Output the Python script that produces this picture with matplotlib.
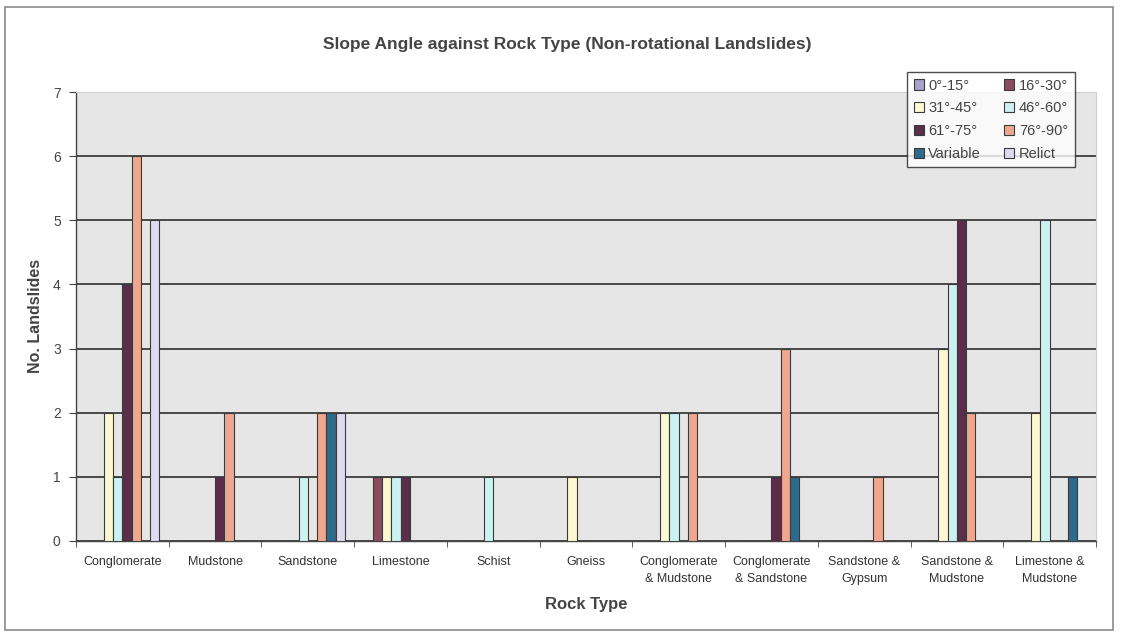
import matplotlib
matplotlib.use("Agg")
import matplotlib.pyplot as plt
from matplotlib.patches import Rectangle
import numpy as np

plt.rcParams['font.family'] = ['Liberation Sans', 'DejaVu Sans']

rock_types = ["Conglomerate", "Mudstone", "Sandstone", "Limestone", "Schist", "Gneiss",
              "Conglomerate\n& Mudstone", "Conglomerate\n& Sandstone", "Sandstone &\nGypsum",
              "Sandstone &\nMudstone", "Limestone &\nMudstone"]

series_names = ["0°-15°", "16°-30°", "31°-45°", "46°-60°", "61°-75°", "76°-90°", "Variable", "Relict"]

s_0_15 = [0, 0, 0, 0, 0, 0, 0, 0, 0, 0, 0]
s_16_30 = [0, 0, 0, 1, 0, 0, 0, 0, 0, 0, 0]
s_31_45 = [2, 0, 0, 1, 0, 1, 2, 0, 0, 3, 2]
s_46_60 = [1, 0, 1, 1, 1, 0, 2, 0, 0, 4, 5]
s_61_75 = [4, 1, 0, 1, 0, 0, 0, 1, 0, 5, 0]
s_76_90 = [6, 2, 2, 0, 0, 0, 2, 3, 1, 2, 0]
s_variable = [0, 0, 2, 0, 0, 0, 0, 1, 0, 0, 1]
s_relict = [5, 0, 2, 0, 0, 0, 0, 0, 0, 0, 0]

series_values = [s_0_15, s_16_30, s_31_45, s_46_60, s_61_75, s_76_90, s_variable, s_relict]
colors = ["#a9a2cc", "#8c4a5e", "#fbf8d2", "#cbf1f1", "#5c2d48", "#f0a78f", "#2e6a8c", "#dedaf0"]

fig = plt.figure(figsize=(11.23, 6.37), dpi=100)
fig.patch.set_facecolor("white")

# chart frame
fig.patches.append(Rectangle((5 / 1123, 1 - 630 / 637), 1108 / 1123, 623 / 637,
                             transform=fig.transFigure, fill=False,
                             edgecolor="#8a8a8a", linewidth=1.2))

ax = fig.add_axes([76 / 1123, 1 - 541 / 637, 1020 / 1123, 449 / 637])
ax.set_facecolor("#e6e6e6")

n_series = len(series_names)
w = 1.0 / (n_series + 2)
x = np.arange(len(rock_types))

handles = []
for i, (name, vals, col) in enumerate(zip(series_names, series_values, colors)):
    bars = ax.bar(x + (i - (n_series - 1) / 2) * w, vals, width=w, color=col,
                  edgecolor="#3a3a3a", linewidth=0.8, label=name, zorder=3)
    handles.append(bars)

ax.set_xlim(-0.5, len(rock_types) - 0.5)
ax.set_ylim(0, 7)
ax.set_yticks(range(0, 8))
ax.yaxis.grid(True, color="#3c3c3c", linewidth=1.3, zorder=1)
ax.set_axisbelow(True)

ax.set_xticks(x)
ax.set_xticklabels(rock_types, fontsize=9, color="#333333", linespacing=1.55)
ax.tick_params(axis="x", which="major", length=0, pad=11)
ax.set_xticks(np.arange(-0.5, len(rock_types), 1.0), minor=True)
ax.tick_params(axis="x", which="minor", length=4, color="#444444", direction="out")
ax.tick_params(axis="y", labelsize=10, colors="#444444", length=5, direction="out", pad=6)

for side in ["top", "right"]:
    ax.spines[side].set_color("#cfcfcf")
    ax.spines[side].set_linewidth(0.8)
for side in ["left", "bottom"]:
    ax.spines[side].set_color("#444444")
    ax.spines[side].set_linewidth(1.0)

fig.text(567 / 1123, 1 - 44 / 637, "Slope Angle against Rock Type (Non-rotational Landslides)",
         ha="center", va="center", fontsize=12.5, fontweight="bold", color="#444444")
fig.text(586 / 1123, 1 - 605 / 637, "Rock Type", ha="center", va="center",
         fontsize=12, fontweight="bold", color="#444444")
fig.text(36 / 1123, 1 - 316 / 637, "No. Landslides", ha="center", va="center",
         rotation=90, fontsize=11.5, fontweight="bold", color="#444444")

# legend filled row by row: two entries per row
order = [0, 2, 4, 6, 1, 3, 5, 7]
leg = ax.legend([handles[k] for k in order], [series_names[k] for k in order],
                loc="upper left", bbox_to_anchor=(907 / 1123, 1 - 72 / 637),
                bbox_transform=fig.transFigure, ncol=2, fontsize=10.5,
                frameon=True, fancybox=False, edgecolor="#222222",
                handlelength=0.7, handleheight=0.7, handletextpad=0.3,
                columnspacing=1.6, labelspacing=0.6, borderpad=0.45,
                borderaxespad=0)
leg.get_frame().set_linewidth(1.0)
leg.get_frame().set_facecolor("white")
leg.set_zorder(10)
for t in leg.get_texts():
    t.set_color("#444444")

fig.savefig("out.png", dpi=100, facecolor=fig.get_facecolor())
